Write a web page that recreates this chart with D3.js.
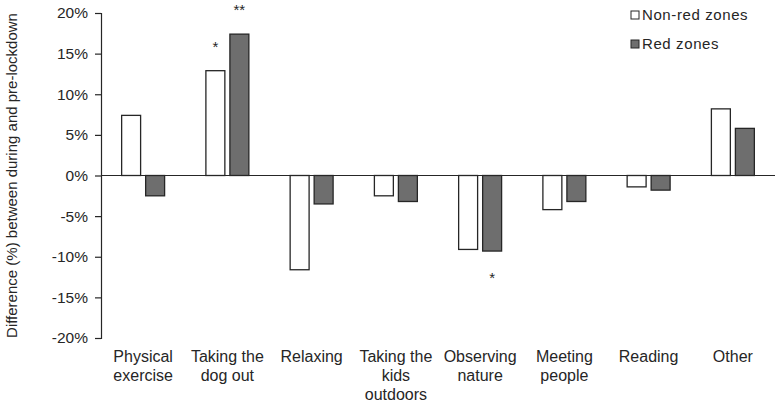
<!DOCTYPE html>
<html>
<head>
<meta charset="utf-8">
<script src="https://cdn.jsdelivr.net/npm/d3@7"></script>
<style>
  body { margin: 0; background: #fff; }
  text { font-family: "Liberation Sans", Arial, sans-serif; fill: #262626; }
</style>
</head>
<body>
<svg id="chart" width="777" height="404"></svg>
<script>
// Activities (labels split over lines as in the original)
const categories = [
  ["Physical", "exercise"],
  ["Taking the", "dog out"],
  ["Relaxing"],
  ["Taking the", "kids", "outdoors"],
  ["Observing", "nature"],
  ["Meeting", "people"],
  ["Reading"],
  ["Other"]
];
const seriesNames = ["Non-red zones", "Red zones"];
const nonRed = [7.4, 12.9, -11.6, -2.5, -9.1, -4.2, -1.4, 8.2];
const red = [-2.5, 17.4, -3.5, -3.2, -9.3, -3.2, -1.8, 5.8];
// significance marks: [category index, series index, text]
const marks = [[1, 0, "*"], [1, 1, "**"], [4, 1, "*"]];
const yTicks = [-20, -15, -10, -5, 0, 5, 10, 15, 20];

const svg = d3.select("#chart");
const marginTop = 13, marginBottom = 66, marginLeft = 101, marginRight = 2;
const width = 777, height = 404;

const x0 = d3.scaleBand()
  .domain(d3.range(categories.length))
  .range([marginLeft, width - marginRight])
  .padding(0);

const x1 = d3.scaleBand()
  .domain(seriesNames)
  .range([0, x0.bandwidth()])
  .paddingInner(0.21)
  .paddingOuter(0.86);

const y = d3.scaleLinear()
  .domain([-20, 20])
  .range([height - marginBottom, marginTop]);

const fills = { "Non-red zones": "#ffffff", "Red zones": "#6e6e6e" };

// Y axis
svg.append("g")
  .attr("transform", `translate(${marginLeft},0)`)
  .call(d3.axisLeft(y).tickValues(yTicks).tickSize(6).tickPadding(7)
    .tickFormat(d => d + "%"))
  .call(g => g.select(".domain").attr("stroke", "#262626").attr("stroke-width", 1.2))
  .call(g => g.selectAll(".tick line").attr("stroke", "#262626").attr("stroke-width", 1.2))
  .call(g => g.selectAll(".tick text")
    .attr("font-size", 15.5)
    .attr("font-family", "Liberation Sans, Arial, sans-serif")
    .attr("fill", "#262626"));

// y title
svg.append("text")
  .attr("transform", `translate(17,${(marginTop + height - marginBottom) / 2}) rotate(-90)`)
  .attr("text-anchor", "middle")
  .attr("font-size", 15)
  .text("Difference (%) between during and pre-lockdown");

// bars
const rows = categories.map((c, i) => ({ i, values: [nonRed[i], red[i]] }));

const groups = svg.append("g")
  .selectAll("g")
  .data(rows)
  .join("g")
  .attr("transform", d => `translate(${x0(d.i)},0)`);

groups.selectAll("rect")
  .data(d => d.values.map((v, k) => ({ key: seriesNames[k], v })))
  .join("rect")
  .attr("x", d => x1(d.key))
  .attr("width", x1.bandwidth())
  .attr("y", d => y(Math.max(0, d.v)))
  .attr("height", d => Math.abs(y(d.v) - y(0)))
  .attr("fill", d => fills[d.key])
  .attr("stroke", "#262626")
  .attr("stroke-width", 1.3);

// zero line
svg.append("line")
  .attr("x1", marginLeft)
  .attr("x2", width - marginRight)
  .attr("y1", y(0))
  .attr("y2", y(0))
  .attr("stroke", "#262626")
  .attr("stroke-width", 1.2);

// significance stars
svg.append("g")
  .selectAll("text")
  .data(marks)
  .join("text")
  .attr("x", d => x0(d[0]) + x1(seriesNames[d[1]]) + x1.bandwidth() / 2)
  .attr("y", d => {
    const v = d[1] === 0 ? nonRed[d[0]] : red[d[0]];
    return v >= 0 ? y(v) - 19 : y(v) + 32;
  })
  .attr("text-anchor", "middle")
  .attr("font-size", 15)
  .text(d => d[2]);

// category labels
svg.append("g")
  .selectAll("text")
  .data(categories)
  .join("text")
  .attr("x", (d, i) => x0(i) + x0.bandwidth() / 2)
  .attr("y", 362)
  .attr("text-anchor", "middle")
  .attr("font-size", 16)
  .selectAll("tspan")
  .data(d => d)
  .join("tspan")
  .attr("x", function () { return this.parentNode.getAttribute("x"); })
  .attr("dy", (d, k) => k === 0 ? 0 : 19)
  .text(d => d);

// legend
const legend = svg.append("g")
  .selectAll("g")
  .data(seriesNames)
  .join("g")
  .attr("transform", (d, i) => `translate(631,${11 + i * 29})`);

legend.append("rect")
  .attr("width", 8)
  .attr("height", 8)
  .attr("fill", d => fills[d])
  .attr("stroke", "#262626")
  .attr("stroke-width", 1);

legend.append("text")
  .attr("x", 11)
  .attr("y", 8.5)
  .attr("font-size", 15)
  .attr("letter-spacing", 0.6)
  .text(d => d);
</script>
</body>
</html>
